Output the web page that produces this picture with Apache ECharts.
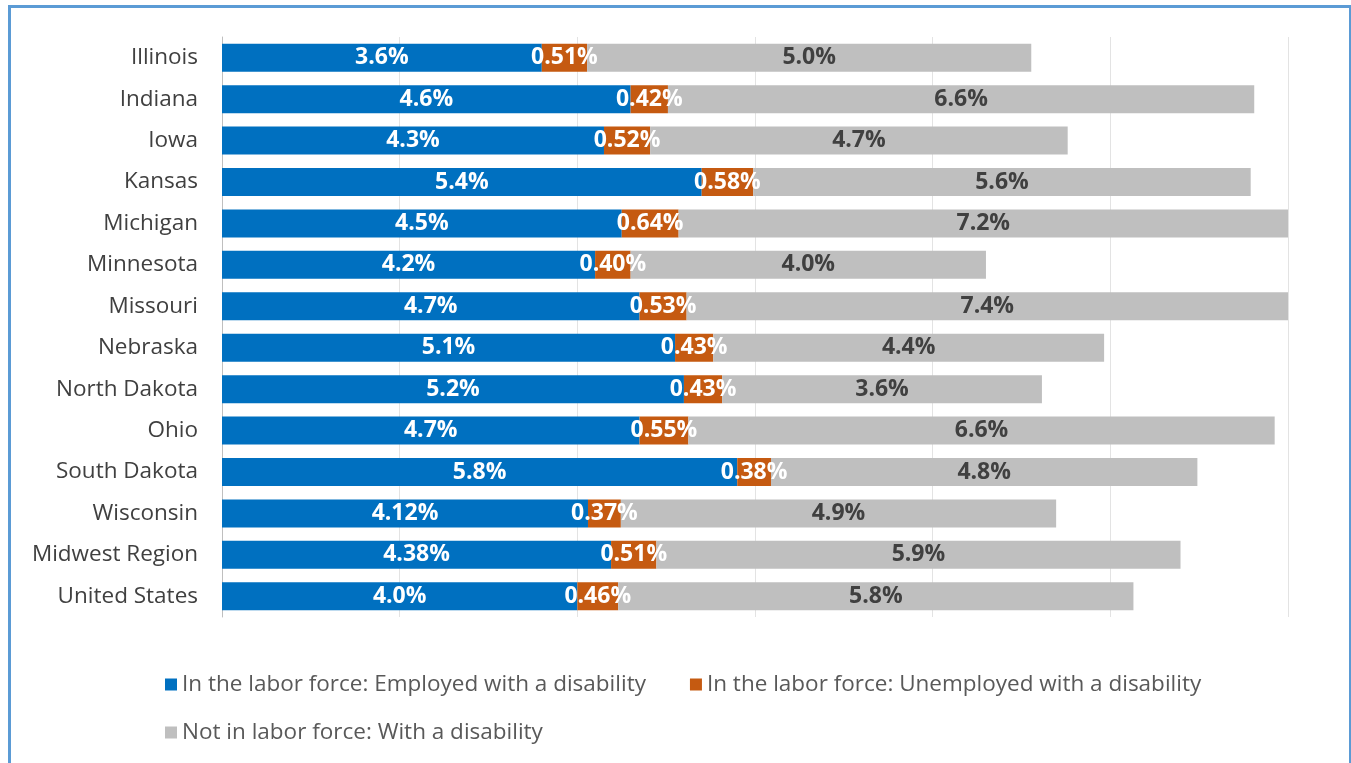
<!DOCTYPE html>
<html>
<head>
<meta charset="utf-8">
<title>Disability and labor force</title>
<script src="https://cdn.jsdelivr.net/npm/echarts@6/dist/echarts.min.js"></script>
<style>
    html, body { margin: 0; padding: 0; background: #fff; }
    #frame {
        position: absolute; left: 8px; top: 5px; width: 1338px; height: 770px;
        border: 3px solid #5b9bd5; border-bottom: none;
    }
    #main { position: absolute; left: 0; top: 0; width: 1351px; height: 763px; }
</style>
</head>
<body>
<div id="frame"></div>
<div id="main"></div>
<script>
    var regions = ['Illinois', 'Indiana', 'Iowa', 'Kansas', 'Michigan', 'Minnesota', 'Missouri',
        'Nebraska', 'North Dakota', 'Ohio', 'South Dakota', 'Wisconsin', 'Midwest Region', 'United States'];
    var employed = [3.6, 4.6, 4.3, 5.4, 4.5, 4.2, 4.7, 5.1, 5.2, 4.7, 5.8, 4.12, 4.38, 4.0];
    var unemployed = [0.51, 0.42, 0.52, 0.58, 0.64, 0.40, 0.53, 0.43, 0.43, 0.55, 0.38, 0.37, 0.51, 0.46];
    var notInLabor = [5.0, 6.6, 4.7, 5.6, 7.2, 4.0, 7.4, 4.4, 3.6, 6.6, 4.8, 4.9, 5.9, 5.8];
    var employedText = ['3.6%', '4.6%', '4.3%', '5.4%', '4.5%', '4.2%', '4.7%', '5.1%', '5.2%', '4.7%', '5.8%', '4.12%', '4.38%', '4.0%'];
    var unemployedText = ['0.51%', '0.42%', '0.52%', '0.58%', '0.64%', '0.40%', '0.53%', '0.43%', '0.43%', '0.55%', '0.38%', '0.37%', '0.51%', '0.46%'];
    var notInLaborText = ['5.0%', '6.6%', '4.7%', '5.6%', '7.2%', '4.0%', '7.4%', '4.4%', '3.6%', '6.6%', '4.8%', '4.9%', '5.9%', '5.8%'];

    var names = ['In the labor force: Employed with a disability',
        'In the labor force: Unemployed with a disability',
        'Not in labor force: With a disability'];

    var font = '"Open Sans", "Noto Sans", sans-serif';

    function barLabel(texts, color) {
        return {
            show: true,
            position: 'inside',
            color: color,
            fontFamily: font,
            fontWeight: 'bold',
            fontSize: 23,
            formatter: function (p) { return texts[p.dataIndex]; }
        };
    }

    var legendText = { color: '#595959', fontFamily: font, fontSize: 22.5 };

    var option = {
        animation: false,
        color: ['#0070c0', '#c55a11', '#bfbfbf'],
        grid: { left: 222, right: 63, top: 37, bottom: 146, containLabel: false },
        legend: [{
            data: [names[0], names[1]],
            left: 160, top: 668,
            icon: 'rect', itemWidth: 12, itemHeight: 12, itemGap: 44,
            textStyle: legendText
        }, {
            data: [names[2]],
            left: 160, top: 716,
            icon: 'rect', itemWidth: 12, itemHeight: 12,
            textStyle: legendText
        }],
        xAxis: {
            type: 'value',
            min: 0, max: 12, interval: 2,
            axisLabel: { show: false },
            axisLine: { show: false },
            axisTick: { show: false },
            splitLine: { lineStyle: { color: '#e3e3e3', width: 1 } }
        },
        yAxis: {
            type: 'category',
            inverse: true,
            data: regions,
            axisLine: { lineStyle: { color: '#bfbfbf' } },
            axisTick: { show: false },
            axisLabel: { color: '#404040', fontFamily: font, fontSize: 22.5, margin: 24 }
        },
        series: [{
            name: names[0], type: 'bar', stack: 'all', barWidth: 28,
            data: employed, label: barLabel(employedText, '#ffffff')
        }, {
            name: names[1], type: 'bar', stack: 'all', barWidth: 28,
            data: unemployed, label: barLabel(unemployedText, '#ffffff')
        }, {
            name: names[2], type: 'bar', stack: 'all', barWidth: 28,
            data: notInLabor, label: barLabel(notInLaborText, '#404040')
        }]
    };

    var myecharts = echarts.init(document.getElementById('main'));
    myecharts.setOption(option);
</script>
</body>
</html>
